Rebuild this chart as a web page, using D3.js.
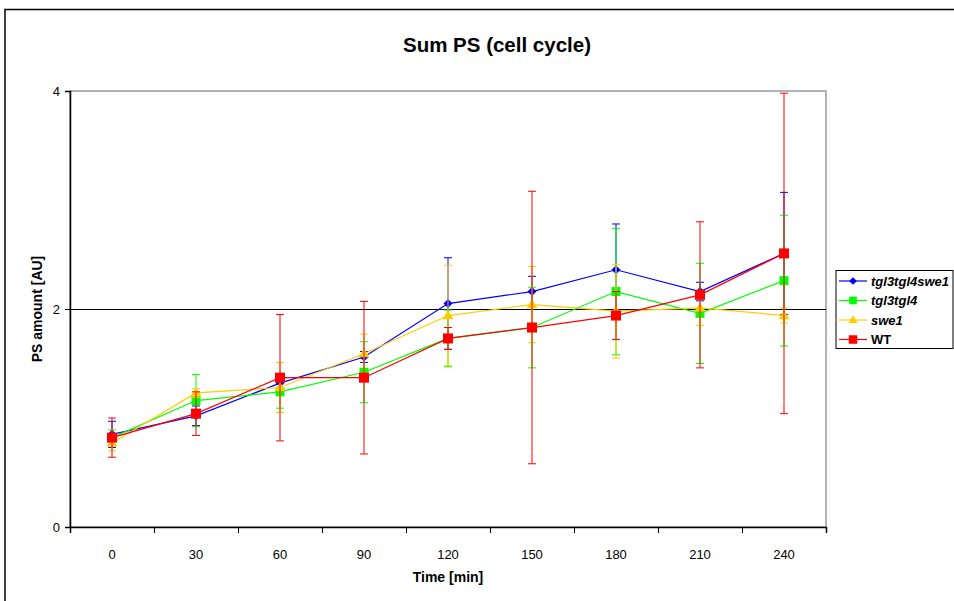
<!DOCTYPE html>
<html>
<head>
<meta charset="utf-8">
<script src="https://cdn.jsdelivr.net/npm/d3@7"></script>
<style>
  html, body { margin: 0; padding: 0; background: #fff; }
  svg { display: block; font-family: "Liberation Sans", Arial, sans-serif; }
</style>
</head>
<body>
<svg id="chart" width="954" height="601"></svg>
<script>
// ---- data ----
const times = ["0", "30", "60", "90", "120", "150", "180", "210", "240"];
const seriesNames = ["tgl3tgl4swe1", "tgl3tgl4", "swe1", "WT"];
const tgl3tgl4swe1 = [0.85, 1.02, 1.32, 1.56, 2.05, 2.16, 2.36, 2.16, 2.51];
const tgl3tgl4swe1Err = [0.12, 0.09, 0.05, 0.05, 0.42, 0.14, 0.42, 0.085, 0.56];
const tgl3tgl4 = [0.82, 1.16, 1.24, 1.42, 1.73, 1.83, 2.16, 1.96, 2.26];
const tgl3tgl4Err = [0.07, 0.24, 0.15, 0.28, 0.26, 0.37, 0.58, 0.46, 0.60];
const swe1 = [0.77, 1.23, 1.28, 1.59, 1.94, 2.04, 1.98, 2.01, 1.94];
const swe1Err = [0.07, 0.04, 0.23, 0.18, 0.46, 0.35, 0.43, 0.16, 0.07];
const WT = [0.82, 1.04, 1.37, 1.37, 1.73, 1.83, 1.94, 2.13, 2.51];
const WTErr = [0.18, 0.20, 0.58, 0.70, 0.10, 1.25, 0.22, 0.67, 1.47];
const yTicks = [0, 2, 4];

const series = [
  { name: seriesNames[0], values: tgl3tgl4swe1, err: tgl3tgl4swe1Err, color: "#0000FF", marker: "diamond", italic: true },
  { name: seriesNames[1], values: tgl3tgl4, err: tgl3tgl4Err, color: "#00FF00", marker: "square", italic: true },
  { name: seriesNames[2], values: swe1, err: swe1Err, color: "#FFCC00", marker: "triangle", italic: true },
  { name: seriesNames[3], values: WT, err: WTErr, color: "#FF0000", marker: "squareBig", italic: false }
];

// ---- layout ----
const svg = d3.select("#chart");
const plot = { left: 70, right: 826, top: 91, bottom: 527 };

const x = d3.scaleBand().domain(times).range([plot.left, plot.right]).padding(0);
const xEdge = d3.scaleLinear().domain([0, times.length]).range([plot.left, plot.right]);
const y = d3.scaleLinear().domain([0, 4]).range([plot.bottom, plot.top]);
const cx = t => x(t) + x.bandwidth() / 2;

// outer chart border
svg.append("rect").attr("x", 5).attr("y", 9.5).attr("width", 1000).attr("height", 700)
  .attr("fill", "#fff").attr("stroke", "#000").attr("stroke-width", 1.5);

// title
svg.append("text").attr("x", 497).attr("y", 52).attr("text-anchor", "middle")
  .attr("font-size", 20.5).attr("font-weight", "bold").text("Sum PS (cell cycle)");

// plot area border
svg.append("rect").attr("x", plot.left).attr("y", plot.top)
  .attr("width", plot.right - plot.left).attr("height", plot.bottom - plot.top)
  .attr("fill", "none").attr("stroke", "#9a9a9a").attr("stroke-width", 1.5);

// gridline at 2
svg.append("g").selectAll("line").data(yTicks.filter(d => d > 0 && d < 4)).join("line")
  .attr("x1", plot.left).attr("x2", plot.right)
  .attr("y1", d => y(d) + 0.5).attr("y2", d => y(d) + 0.5)
  .attr("stroke", "#000").attr("stroke-width", 1);

// y axis
const yAxis = svg.append("g").attr("transform", `translate(${plot.left},0)`)
  .call(d3.axisLeft(y).tickValues(yTicks).tickSize(5).tickPadding(5).tickFormat(d3.format("d")));
yAxis.select(".domain").attr("stroke", "#000").attr("stroke-width", 1.5);
yAxis.selectAll("text").attr("font-size", 13).attr("fill", "#000").attr("font-family", "Liberation Sans, Arial, sans-serif");

// x axis: boundary ticks
const xTickAxis = svg.append("g").attr("transform", `translate(0,${plot.bottom})`)
  .call(d3.axisBottom(xEdge).tickValues(d3.range(times.length + 1)).tickSize(6).tickFormat(""));
xTickAxis.select(".domain").attr("stroke", "#000").attr("stroke-width", 1.5);
// x axis: labels
const xLab = svg.append("g").attr("transform", `translate(0,${plot.bottom})`)
  .call(d3.axisBottom(x).tickSize(0).tickPadding(23));
xLab.select(".domain").remove();
xLab.selectAll("text").attr("font-size", 13).attr("fill", "#000").attr("font-family", "Liberation Sans, Arial, sans-serif");

// axis titles
svg.append("text").attr("x", 448).attr("y", 582).attr("text-anchor", "middle")
  .attr("font-size", 14).attr("font-weight", "bold").text("Time [min]");
svg.append("text").attr("transform", `translate(42,${y(2)}) rotate(-90)`).attr("text-anchor", "middle")
  .attr("font-size", 14).attr("font-weight", "bold").text("PS amount [AU]");

// marker drawing
function drawMarker(g, type, color, px, py, scale) {
  const s = scale || 1;
  if (type === "diamond") {
    const r = 4.5 * s;
    g.append("path").attr("d", `M${px},${py - r}L${px + r},${py}L${px},${py + r}L${px - r},${py}Z`).attr("fill", color);
  } else if (type === "square") {
    const h = 4.5 * s;
    g.append("rect").attr("x", px - h).attr("y", py - h).attr("width", 2 * h).attr("height", 2 * h).attr("fill", color);
  } else if (type === "squareBig") {
    const h = 5 * s;
    g.append("rect").attr("x", px - h).attr("y", py - h).attr("width", 2 * h).attr("height", 2 * h).attr("fill", color);
  } else if (type === "triangle") {
    const w = 5.5 * s, ht = 9 * s;
    g.append("path").attr("d", `M${px},${py - ht * 0.6}L${px + w},${py + ht * 0.4}L${px - w},${py + ht * 0.4}Z`).attr("fill", color);
  }
}

// series
const line = d3.line().x((d, i) => cx(times[i])).y(d => y(d));
series.forEach(s => {
  const g = svg.append("g");
  // error bars
  s.values.forEach((v, i) => {
    const px = cx(times[i]);
    const y1 = y(v + s.err[i]), y2 = y(v - s.err[i]);
    g.append("line").attr("x1", px).attr("x2", px).attr("y1", y1).attr("y2", y2)
      .attr("stroke", s.color).attr("stroke-width", 1);
    [y1, y2].forEach(yy => {
      g.append("line").attr("x1", px - 4).attr("x2", px + 4).attr("y1", yy).attr("y2", yy)
        .attr("stroke", s.color).attr("stroke-width", 1);
    });
  });
  // line
  g.append("path").datum(s.values).attr("d", line).attr("fill", "none")
    .attr("stroke", s.color).attr("stroke-width", 1.2);
  // markers
  s.values.forEach((v, i) => drawMarker(g, s.marker, s.color, cx(times[i]), y(v)));
});

// legend
const lg = svg.append("g");
lg.append("rect").attr("x", 836).attr("y", 270.5).attr("width", 117).attr("height", 78)
  .attr("fill", "#fff").attr("stroke", "#000").attr("stroke-width", 1);
series.forEach((s, i) => {
  const ly = 281 + i * 19.5;
  lg.append("line").attr("x1", 839).attr("x2", 867).attr("y1", ly).attr("y2", ly)
    .attr("stroke", s.color).attr("stroke-width", 1.2);
  drawMarker(lg, s.marker, s.color, 853, ly, 0.85);
  lg.append("text").attr("x", 871).attr("y", ly + 4.5).attr("font-size", 13)
    .attr("font-weight", "bold").attr("font-style", s.italic ? "italic" : "normal").text(s.name);
});
</script>
</body>
</html>
